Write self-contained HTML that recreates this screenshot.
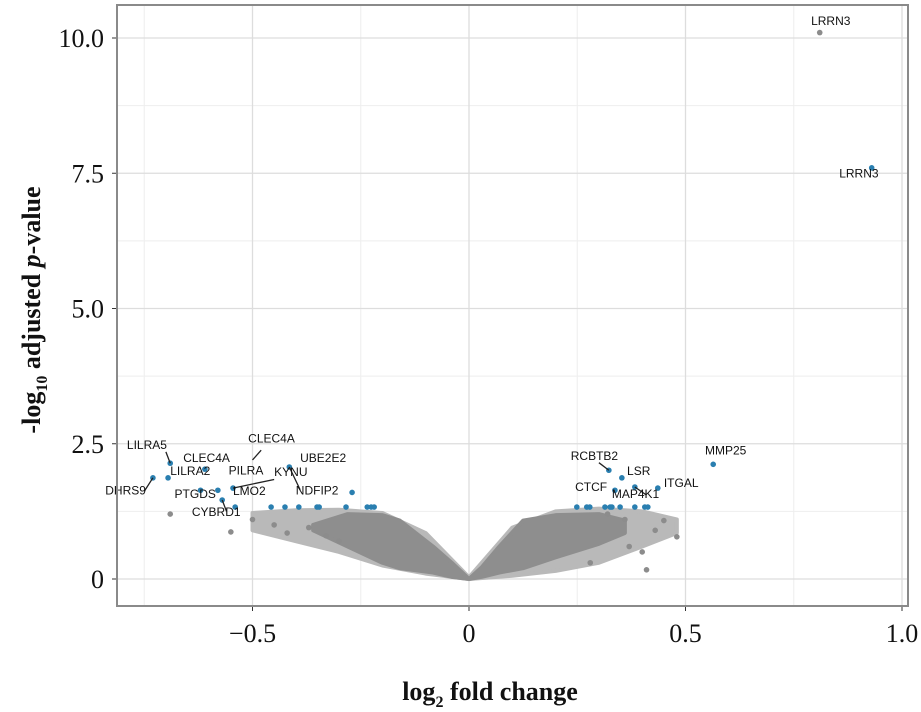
<!DOCTYPE html>
<html><head><meta charset="utf-8"><style>
body{margin:0;background:#fff;width:921px;height:712px;overflow:hidden}
svg{display:block}
.tk{font-family:"Liberation Serif",serif;font-size:26px;fill:#111}
.gl{font-family:"Liberation Sans",sans-serif;font-size:12px;fill:#111}
.ttl{font-family:"Liberation Serif",serif;font-size:26px;font-weight:bold;fill:#111}
</style></head><body>
<svg id="chart" width="921" height="712"></svg>
<script>
const xTicks=[-0.5,0,0.5,1.0];
const xTickLabels=["−0.5","0","0.5","1.0"];
const yTicks=[0,2.5,5,7.5,10];
const yTickLabels=["0","2.5","5.0","7.5","10.0"];
const sparseX=[-0.5,-0.4,-0.3,-0.2,-0.1,0,0.1,0.2,0.3,0.4,0.48];
const sparseUpper=[1.22,1.27,1.28,1.22,0.85,0.03,0.95,1.25,1.3,1.25,1.1];
const sparseLower=[0.9,0.7,0.5,0.25,0.1,0,0.06,0.15,0.3,0.6,0.85];
const cloudX=[-0.36,-0.28,-0.2,-0.16,-0.083,-0.04,0,0.03,0.07,0.125,0.2,0.3,0.36];
const cloudUpper=[1.0,1.2,1.18,1.08,0.6,0.3,0,0.22,0.6,1.08,1.18,1.2,1.08];
const cloudLower=[0.9,0.6,0.3,0.2,0.12,0.04,0,0.04,0.12,0.2,0.4,0.65,0.85];
const greyX=[-0.69,-0.55,-0.5,-0.45,-0.42,-0.37,-0.33,-0.3,0.41,0.48,0.43,0.45,0.4,0.37,0.36,0.32,0.81,0.28];
const greyY=[1.2,0.87,1.1,1.0,0.85,0.95,0.8,0.7,0.17,0.78,0.9,1.08,0.5,0.6,1.1,1.2,10.1,0.3];
const blueX=[-0.69,-0.61,-0.695,-0.73,-0.415,-0.545,-0.62,-0.58,-0.57,-0.54,-0.27,-0.457,-0.425,-0.393,-0.351,-0.346,-0.284,-0.235,-0.226,-0.219,0.564,0.323,0.353,0.436,0.383,0.337,0.249,0.272,0.279,0.314,0.326,0.33,0.349,0.383,0.406,0.413,0.93];
const blueY=[2.14,2.03,1.87,1.87,2.07,1.68,1.64,1.64,1.46,1.33,1.6,1.33,1.33,1.33,1.33,1.33,1.33,1.33,1.33,1.33,2.12,2.01,1.87,1.68,1.7,1.64,1.33,1.33,1.33,1.33,1.33,1.33,1.33,1.33,1.33,1.33,7.6];
const labelText=["LILRA5","CLEC4A","CLEC4A","LILRA2","DHRS9","UBE2E2","PILRA","KYNU","NDFIP2","PTGDS","LMO2","CYBRD1","RCBTB2","LSR","ITGAL","MMP25","CTCF","MAP4K1","LRRN3","LRRN3"];
const labelX=[-0.79,-0.66,-0.51,-0.69,-0.84,-0.39,-0.555,-0.45,-0.4,-0.68,-0.545,-0.64,0.235,0.365,0.45,0.545,0.245,0.33,0.79,0.855];
const labelY=[2.4,2.16,2.52,1.92,1.56,2.16,1.93,1.9,1.56,1.5,1.55,1.16,2.2,1.92,1.7,2.3,1.63,1.5,10.24,7.42];
const X=v=>469+v*433, Y=v=>579-v*54.1;
const svg=document.getElementById('chart');const NS='http://www.w3.org/2000/svg';
function mk(t,a,p){const e=document.createElementNS(NS,t);for(const k in a)e.setAttribute(k,a[k]);(p||svg).appendChild(e);return e;}
let e;
e=mk('rect',{x:117,y:5,width:791,height:601,fill:'#fff'});


[-0.75,-0.25,0.25,0.75].forEach(v=>mk('line',{x1:X(v),x2:X(v),y1:5,y2:606,stroke:'#eee','stroke-width':1}));
[1.25,3.75,6.25,8.75].forEach(v=>mk('line',{x1:117,x2:908,y1:Y(v),y2:Y(v),stroke:'#eee','stroke-width':1}));
xTicks.forEach((v,i)=>{mk('line',{x1:X(v),x2:X(v),y1:5,y2:606,stroke:'#ddd','stroke-width':1.3});
 mk('line',{x1:X(v),x2:X(v),y1:606,y2:611,stroke:'#333'});
 e=mk('text',{x:X(v),y:642,'text-anchor':'middle',class:'tk'});e.textContent=xTickLabels[i];
 
 });
yTicks.forEach((v,i)=>{mk('line',{x1:117,x2:908,y1:Y(v),y2:Y(v),stroke:'#ddd','stroke-width':1.3});
 mk('line',{x1:112,x2:117,y1:Y(v),y2:Y(v),stroke:'#333'});
 e=mk('text',{x:104,y:Y(v)+9,'text-anchor':'end',class:'tk'});e.textContent=yTickLabels[i];
 
 });
function poly(xs,up,lo,fill){
 const p=xs.map((v,i)=>X(v)+','+Y(up[i])).concat(xs.map((v,i)=>X(v)+','+Y(lo[i])).reverse());
 return mk('polygon',{points:p.join(' '),fill:fill,stroke:fill,'stroke-width':4,'stroke-linejoin':'round'});}
e=poly(sparseX,sparseUpper,sparseLower,'#b9b9b9');


e=poly(cloudX,cloudUpper,cloudLower,'#8e8e8e');


greyX.forEach((v,i)=>{e=mk('circle',{cx:X(v),cy:Y(greyY[i]),r:2.8,fill:'#8c8c8c'});
 
 });
blueX.forEach((v,i)=>{e=mk('circle',{cx:X(v),cy:Y(blueY[i]),r:2.8,fill:'#2a7fb0'});
 
 });
[[-0.7,2.35,-0.69,2.14],[-0.48,2.38,-0.5,2.2],[-0.75,1.62,-0.73,1.87],[-0.415,2.07,-0.39,1.65],[-0.545,1.68,-0.45,1.84],[-0.57,1.46,-0.56,1.25],[0.3,2.15,0.323,2.01],[0.383,1.7,0.41,1.55]].forEach(l=>mk('line',{x1:X(l[0]),y1:Y(l[1]),x2:X(l[2]),y2:Y(l[3]),stroke:'#222','stroke-width':1.3}));
labelText.forEach((t,i)=>{e=mk('text',{x:X(labelX[i]),y:Y(labelY[i]),class:'gl'});e.textContent=t;
 
 });
e=mk('rect',{x:117,y:5,width:791,height:601,fill:'none',stroke:'#8a8a8a','stroke-width':2});


e=mk('text',{x:490,y:700,'text-anchor':'middle',class:'ttl'});
e.innerHTML='log<tspan font-size="16" dy="7">2</tspan><tspan dy="-7"> fold change</tspan>';


e=mk('text',{transform:'translate(40,310) rotate(-90)','text-anchor':'middle',class:'ttl'});
e.innerHTML='-log<tspan font-size="16" dy="7">10</tspan><tspan dy="-7"> adjusted </tspan><tspan font-style="italic">p</tspan>-value';


</script>
</body></html>
